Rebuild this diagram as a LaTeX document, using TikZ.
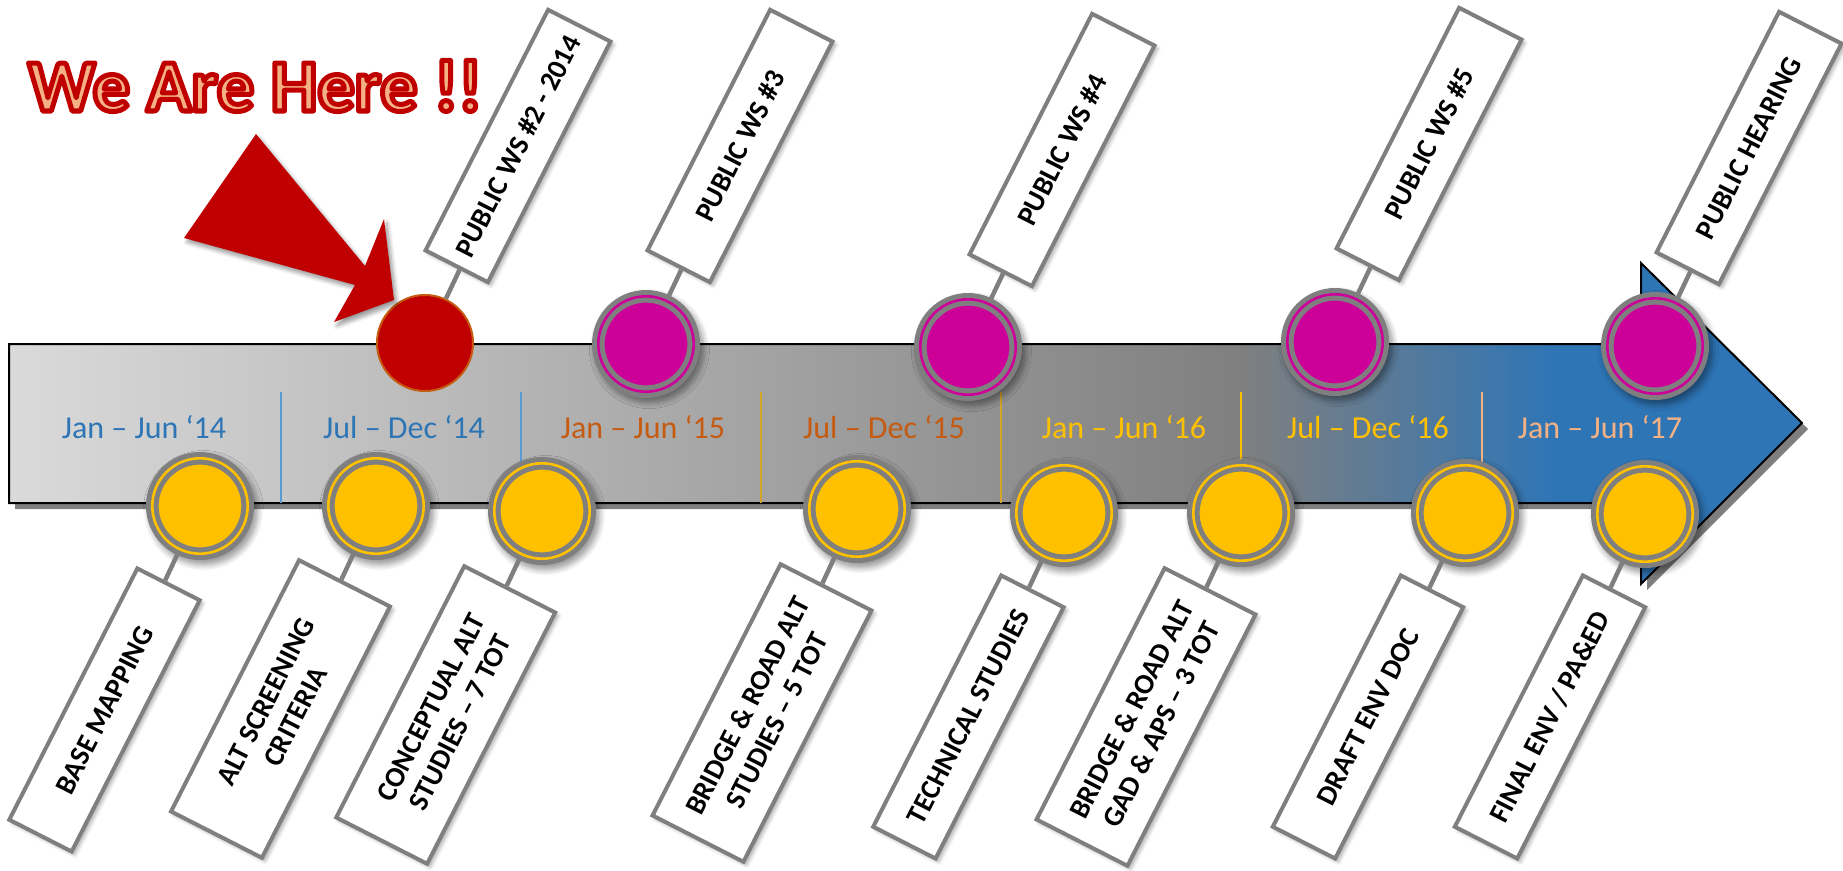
\documentclass[tikz,border=0pt]{standalone}
\usepackage{fontspec}
\setmainfont{Carlito}
\usetikzlibrary{shadows,shadows.blur}

\definecolor{ringgrey}{HTML}{7F7F7F}
\definecolor{pinkfill}{HTML}{CC0099}
\definecolor{goldfill}{HTML}{FFC000}
\definecolor{herered}{HTML}{C00000}
\definecolor{herepeach}{HTML}{F4B183}
\definecolor{rimbrown}{HTML}{C55A11}
\definecolor{yrblue}{HTML}{2E75B6}
\definecolor{yrorange}{HTML}{C55A11}
\definecolor{yrgold}{HTML}{FFC000}
\definecolor{yrpeach}{HTML}{F4B183}
\definecolor{divblue}{HTML}{5B9BD5}
\definecolor{divgold}{HTML}{D4A52A}
\definecolor{bandlight}{HTML}{DADADA}
\definecolor{bandgrey}{HTML}{7F7F7F}
\definecolor{bandblue}{HTML}{2E75B6}

% left-to-right fill of the timeline band: light grey -> mid grey -> blue
\pgfdeclarehorizontalshading{bandshade}{100bp}{%
  color(0bp)=(bandlight); color(25bp)=(bandlight);
  color(59.4bp)=(bandgrey); color(68.2bp)=(bandblue);
  color(100bp)=(bandblue)}

% filled text with a stroked outline (PDF text render mode 2)
\newcommand\strokedtext[1]{%
  \special{pdf:literal direct 2 Tr 5 w 1 j 0.753 0 0 RG}#1%
  \special{pdf:literal direct 0 Tr}}

\begin{document}
\begin{tikzpicture}[x=1pt,y=-1pt,
  softshadow/.style={blur shadow={shadow xshift=3pt,shadow yshift=-3pt,
      shadow blur steps=6,shadow blur radius=4pt,shadow opacity=35}},
  milestone/.style={circle,draw=ringgrey,line width=5pt,double distance=2.6pt,
      minimum size=95.4pt,inner sep=0pt,
      blur shadow={shadow xshift=3pt,shadow yshift=-4pt,shadow scale=1.14,
      shadow blur steps=6,shadow blur radius=5pt,shadow opacity=40}},
  pinkdot/.style={milestone,fill=pinkfill,double=pinkfill},
  golddot/.style={milestone,fill=goldfill,double=goldfill},
  tagbox/.style={draw=ringgrey,line width=4pt,fill=white,rotate=63,
      minimum height=70pt,align=center,inner sep=0pt,softshadow,
      font=\bfseries\fontsize{28.5}{33}\selectfont},
  uptag/.style={tagbox,minimum width=270pt},
  downtag/.style={tagbox,minimum width=282pt},
  twoline/.style={minimum height=102pt},
  stem/.style={draw=ringgrey,line width=4.5pt},
  period/.style={anchor=base,inner sep=0pt,font=\fontsize{32}{38}\selectfont},
  divider/.style={line width=1.2pt}]

\useasboundingbox (0,0) rectangle (1843,870);

% ---- timeline band (arrow) with its hard shadow ----
\fill[ringgrey] (15,350) -- (1647,350) -- (1647,269) -- (1808,429)
  -- (1647,590) -- (1647,509) -- (15,509) -- cycle;
\shade[shading=bandshade,draw=black,line width=2pt]
  (9,344) -- (1641,344) -- (1641,263) -- (1802,423)
  -- (1641,584) -- (1641,503) -- (9,503) -- cycle;

% half-year dividers
\draw[divider,divblue] (281,392) -- (281,503);
\draw[divider,divblue] (521,392) -- (521,503);
\draw[divider,divgold] (761,392) -- (761,503);
\draw[divider,divgold] (1001,392) -- (1001,503);
\draw[divider,yrgold]  (1241,392) -- (1241,503);
\draw[divider,yrpeach] (1482,392) -- (1482,503);

% ---- half-year labels ----
\node[period,text=yrblue]   (p1) at (144,438)  {Jan – Jun ‘14};
\node[period,text=yrblue]   (p2) at (404,438)  {Jul – Dec ‘14};
\node[period,text=yrorange] (p3) at (643,438)  {Jan – Jun ‘15};
\node[period,text=yrorange] (p4) at (884,438)  {Jul – Dec ‘15};
\node[period,text=yrgold]   (p5) at (1124,438) {Jan – Jun ‘16};
\node[period,text=yrgold]   (p6) at (1368,438) {Jul – Dec ‘16};
\node[period,text=yrpeach]  (p7) at (1600,438) {Jan – Jun ‘17};

% ---- public milestones (above the band) ----
\node[circle,fill=herered,draw=rimbrown,line width=2pt,minimum size=96pt,
      inner sep=0pt] (cA) at (425,343) {};
\node[pinkdot] (cB) at (646,344)  {};
\node[pinkdot] (cC) at (968,347)  {};
\node[pinkdot] (cD) at (1335,342) {};
\node[pinkdot] (cE) at (1655,346) {};

\node[uptag] (tA) at (518,146)  {PUBLIC WS \#2 - 2014};
\node[uptag] (tB) at (740,146)  {PUBLIC WS \#3};
\node[uptag] (tC) at (1062,150) {PUBLIC WS \#4};
\node[uptag] (tD) at (1429,144) {PUBLIC WS \#5};
\node[uptag] (tE) at (1749,148) {PUBLIC HEARING};

% ---- work milestones (below the band) ----
\node[golddot] (c1) at (200,506)  {};
\node[golddot] (c2) at (376,506)  {};
\node[golddot] (c3) at (542,511)  {};
\node[golddot] (c4) at (857,509)  {};
\node[golddot] (c5) at (1064,513) {};
\node[golddot] (c6) at (1241,513) {};
\node[golddot] (c7) at (1465,513) {};
\node[golddot] (c8) at (1645,514) {};

\node[downtag] (b1) at (104.5,710) {BASE MAPPING};
\node[downtag,twoline] (b2) at (280.5,709) {ALT SCREENING\\CRITERIA};
\node[downtag,twoline] (b3) at (445.7,715) {CONCEPTUAL ALT\\STUDIES – 7 TOT};
\node[downtag,twoline] (b4) at (762,713) {BRIDGE \& ROAD ALT\\STUDIES – 5 TOT};
\node[downtag] (b5) at (968.4,717) {TECHNICAL STUDIES};
\node[downtag,twoline] (b6) at (1146,717) {BRIDGE \& ROAD ALT\\GAD \& APS – 3 TOT};
\node[downtag] (b7) at (1368,717) {DRAFT ENV DOC};
\node[downtag] (b8) at (1550,717) {FINAL ENV / PA\&ED};

% ---- stems joining each milestone to its tag ----
\foreach \c/\t in {cA/tA,cB/tB,cC/tC,cD/tD,cE/tE,
                   c1/b1,c2/b2,c3/b3,c4/b4,c5/b5,c6/b6,c7/b7,c8/b8}
  \draw[stem] (\c) -- (\t);

% ---- current-position callout ----
\fill[herered,blur shadow={shadow xshift=3pt,shadow yshift=-4pt,
      shadow blur steps=6,shadow blur radius=4pt,shadow opacity=40}]
  (256,134) -- (365,266) -- (384,219) -- (394,300)
  -- (334,322) -- (355,285) -- (184,238) -- cycle;

\node[anchor=base west,inner sep=0pt,text=herepeach,
      font=\bfseries\fontsize{74}{84}\selectfont] (here) at (28,111)
  {\strokedtext{We Are Here !!}};

\end{tikzpicture}
\end{document}
